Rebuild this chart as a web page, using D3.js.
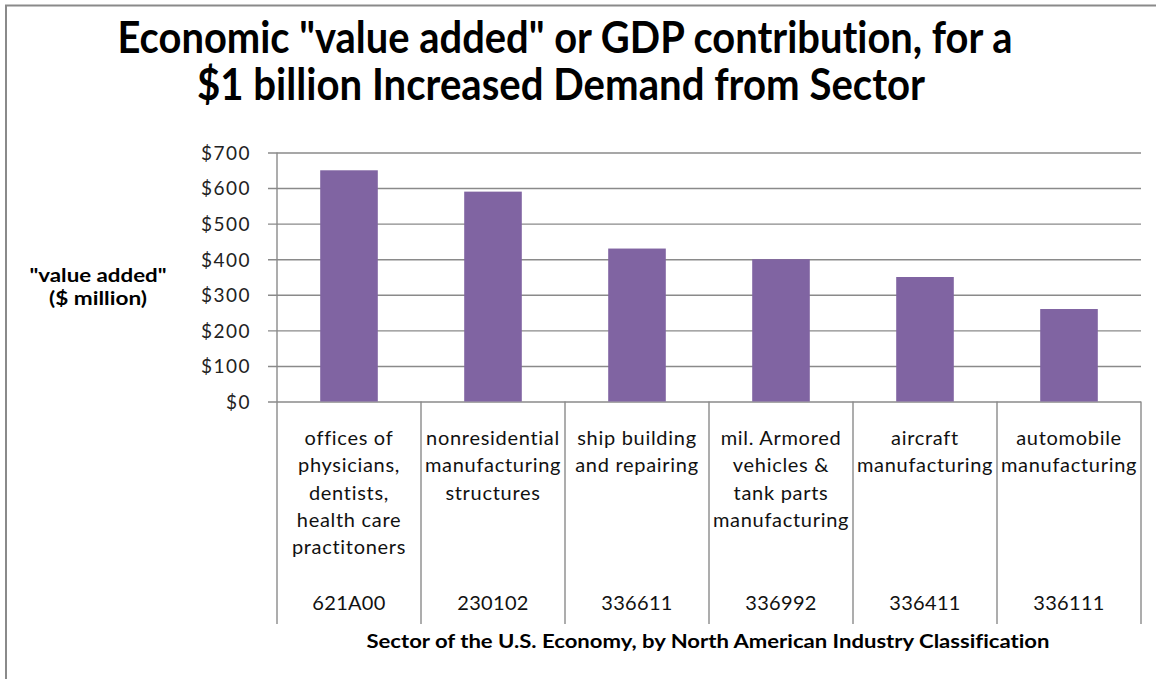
<!DOCTYPE html>
<html>
<head>
<meta charset="utf-8">
<script src="https://cdn.jsdelivr.net/npm/d3@7"></script>
<style>
  html, body { margin: 0; padding: 0; background: #fff; }
  svg { display: block; }
  text { font-family: Lato, "Open Sans", sans-serif; fill: #111; font-variant-ligatures: none; }
</style>
</head>
<body>
<svg id="chart" width="1156" height="679"></svg>
<script>
// Sector names (wrapped lines) and NAICS codes
const sectorLines = [
  ["offices of", "physicians,", "dentists,", "health care", "practitoners"],
  ["nonresidential", "manufacturing", "structures"],
  ["ship building", "and repairing"],
  ["mil. Armored", "vehicles &", "tank parts", "manufacturing"],
  ["aircraft", "manufacturing"],
  ["automobile", "manufacturing"]
];
const sectorCodes = ["621A00", "230102", "336611", "336992", "336411", "336111"];
// Value added, $ million, per $1 billion of increased demand
const valueAdded = [650, 590, 430, 400, 350, 260];
const yTicks = [0, 100, 200, 300, 400, 500, 600, 700];

const svg = d3.select("#chart");
const W = 1156, H = 679;

const plot = { left: 277, right: 1141, top: 152.5, bottom: 401.5, tableBottom: 624 };

const x = d3.scaleBand()
  .domain(sectorCodes)
  .range([plot.left, plot.right])
  .padding(0);

const y = d3.scaleLinear()
  .domain([0, 700])
  .range([plot.bottom, plot.top]);

// outer frame (top and left edges)
svg.append("line").attr("x1", 5).attr("x2", W).attr("y1", 5.5).attr("y2", 5.5)
  .attr("stroke", "#8a8a8a").attr("stroke-width", 2);
svg.append("line").attr("x1", 6).attr("x2", 6).attr("y1", 5).attr("y2", H)
  .attr("stroke", "#8a8a8a").attr("stroke-width", 2);

// title
const title = svg.append("g").attr("class", "title");
[["Economic \"value added\" or GDP contribution, for a", 565, 53, 895],
 ["$1 billion  Increased Demand from Sector", 561, 100, 728]].forEach(([t, cx, by, len]) => {
  title.append("text")
    .attr("x", cx).attr("y", by)
    .attr("text-anchor", "middle")
    .attr("font-size", 44).attr("font-weight", 700)
    .attr("textLength", len).attr("lengthAdjust", "spacingAndGlyphs")
    .style("fill", "#000")
    .text(t);
});

// y axis: gridlines with tick marks extending left of the axis
const yAxis = d3.axisLeft(y)
  .tickValues(yTicks)
  .tickSize(-(plot.right - 268))
  .tickFormat(d => "$" + d);

const yg = svg.append("g")
  .attr("transform", `translate(268,0)`)
  .call(yAxis);
yg.select(".domain").remove();
yg.selectAll(".tick line")
  .attr("stroke", "#8a8a8a").attr("stroke-width", 1.4);
yg.selectAll(".tick text")
  .attr("x", -17).attr("dy", "0.36em")
  .attr("font-size", 19)
  .attr("letter-spacing", 1.5)
  .style("font-family", "Lato, sans-serif")
  .style("fill", "#222");

// left axis line runs through the category table
svg.append("line")
  .attr("x1", plot.left).attr("x2", plot.left)
  .attr("y1", plot.top).attr("y2", plot.tableBottom)
  .attr("stroke", "#8a8a8a").attr("stroke-width", 1.4);

// category dividers
svg.append("g").selectAll("line")
  .data(sectorCodes)
  .join("line")
  .attr("x1", d => x(d) + x.bandwidth())
  .attr("x2", d => x(d) + x.bandwidth())
  .attr("y1", plot.bottom).attr("y2", plot.tableBottom)
  .attr("stroke", "#8a8a8a").attr("stroke-width", 1.4);

// bars
const barW = x.bandwidth() * 0.4;
svg.append("g").selectAll("rect")
  .data(valueAdded)
  .join("rect")
  .attr("x", (d, i) => x(sectorCodes[i]) + (x.bandwidth() - barW) / 2)
  .attr("width", barW)
  .attr("y", d => y(d))
  .attr("height", d => y(0) - y(d))
  .attr("fill", "#8064a2");

// category labels
const catG = svg.append("g");
sectorLines.forEach((lines, i) => {
  const cx = x(sectorCodes[i]) + x.bandwidth() / 2;
  const t = catG.append("text")
    .attr("text-anchor", "middle")
    .attr("font-size", 20)
    .attr("letter-spacing", 0.7)
    .style("fill", "#111");
  lines.forEach((ln, j) => {
    t.append("tspan").attr("x", cx).attr("y", 445 + j * 27.3).text(ln);
  });
  catG.append("text")
    .attr("x", cx).attr("y", 610)
    .attr("text-anchor", "middle")
    .attr("font-size", 20)
    .attr("letter-spacing", 0.3)
    .style("fill", "#111")
    .text(sectorCodes[i]);
});

// y axis title
[["\"value added\"", 282, 137], ["($ million)", 305, 98]].forEach(([t, by, len]) => {
  svg.append("text")
    .attr("x", 98).attr("y", by)
    .attr("text-anchor", "middle")
    .attr("font-size", 19).attr("font-weight", 700)
    .attr("textLength", len).attr("lengthAdjust", "spacingAndGlyphs")
    .style("fill", "#000")
    .text(t);
});

// x axis title
svg.append("text")
  .attr("x", 708).attr("y", 648)
  .attr("text-anchor", "middle")
  .attr("font-size", 19).attr("font-weight", 700)
  .attr("textLength", 683).attr("lengthAdjust", "spacingAndGlyphs")
  .style("fill", "#000")
  .text("Sector of the U.S. Economy, by North American Industry Classification");
</script>
</body>
</html>
